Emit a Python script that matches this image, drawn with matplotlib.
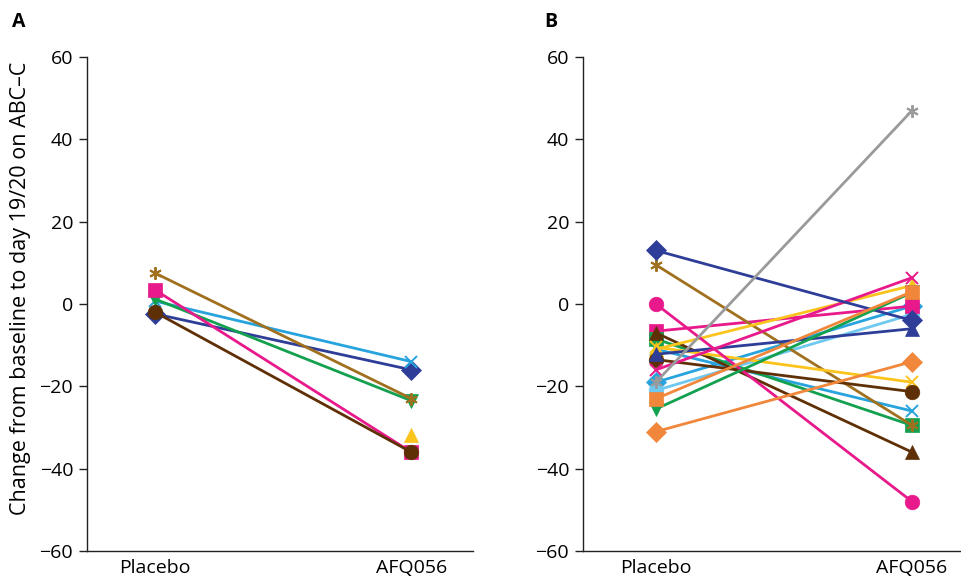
import numpy as np
import matplotlib
matplotlib.use("Agg")
import matplotlib.pyplot as plt

plt.rcParams['font.family'] = ['Open Sans', 'DejaVu Sans']

# cores dos pacientes
DBLUE = '#2e3d98'
GOLD = '#a0701e'
PINK = '#e8198b'
GREEN = '#13a04f'
CYAN = '#27a3dd'
BROWN = '#5f3005'
YELLOW = '#fbc41d'
GRAY = '#9a9a9a'
ORANGE = '#f1873a'
SKY = '#6ec8ef'
ASTER = (6, 2, 0)

grupos = ['Placebo', 'AFQ056']

# =========================================================================================
# painel A
a_placebo = [-2.4, 0.7, 1.2, 7.5, 3.4, -2.0, np.nan]
a_afq = [-16.0, -14.0, -23.5, -23.0, -36.0, -36.0, -31.7]
a_cores = [DBLUE, CYAN, GREEN, GOLD, PINK, BROWN, YELLOW]
a_marc = ['D', 'x', 'v', ASTER, 's', 'o', '^']

# =========================================================================================
# painel B
b_placebo = [-19.0, -11.0, -21.0, -6.6, -8.5, 9.5, -7.0, -11.0, -10.5, -13.5,
             -12.2, -16.0, 13.0, 0.0, -19.0, -25.5, -23.0, -31.0]
b_afq = [-0.5, -26.0, -2.5, -0.5, -29.5, -29.5, -36.0, 4.5, -19.0, -21.3,
         -6.0, 6.4, -4.0, -48.0, 47.0, 2.8, 3.0, -14.0]
b_cores = [CYAN, CYAN, SKY, PINK, GREEN, GOLD, BROWN, YELLOW, YELLOW, BROWN,
           DBLUE, PINK, DBLUE, PINK, GRAY, GREEN, ORANGE, ORANGE]
b_marc = ['D', 'x', 'o', 's', 's', ASTER, '^', '^', 'x', 'o',
          '^', 'x', 'D', 'o', ASTER, 'v', 's', 'D']

fig = plt.figure(figsize=(9.62, 5.8), dpi=100)
axA = fig.add_axes([0.0904, 0.05, 0.4012, 0.8517])
axB = fig.add_axes([0.606, 0.05, 0.394, 0.8517])


def desenha(ax, placebo, afq, cores, marcas, xlim):
    for p, a, c, m in zip(placebo, afq, cores, marcas):
        fino = m in ('x', ASTER)
        ax.plot([0, 1], [p, a], color=c, lw=2.0, marker=m,
                markersize=9 if fino else 10.5,
                markeredgewidth=1.4 if fino else 0.5,
                markeredgecolor=c, markerfacecolor=c, clip_on=False)
    ax.set_xlim(*xlim)
    ax.set_ylim(-60, 60)
    ax.set_yticks(range(-60, 61, 20))
    ax.set_yticklabels([f'{v}'.replace('-', '\u2212') for v in range(-60, 61, 20)])
    ax.set_xticks([0, 1])
    ax.set_xticklabels(grupos)
    ax.spines['top'].set_visible(False)
    ax.spines['right'].set_visible(False)
    for s in ('left', 'bottom'):
        ax.spines[s].set_linewidth(1.0)
        ax.spines[s].set_color('#222222')
    ax.tick_params(axis='y', length=6, width=1.0, pad=4, labelsize=14, color='#222222')
    ax.tick_params(axis='x', length=0, pad=6, labelsize=14)


desenha(axA, a_placebo, a_afq, a_cores, a_marc, (-0.266, 1.24))
desenha(axB, b_placebo, b_afq, b_cores, b_marc, (-0.285, 1.195))

axA.set_ylabel('Change from baseline to day 19/20 on ABC\u2013C', fontsize=15.5)
axA.yaxis.set_label_coords(-0.145, 0.531)

fig.text(0.012, 0.962, 'A', fontsize=14, fontweight='bold', va='center')
fig.text(0.566, 0.962, 'B', fontsize=14, fontweight='bold', va='center')

fig.savefig('out.png', dpi=100)
